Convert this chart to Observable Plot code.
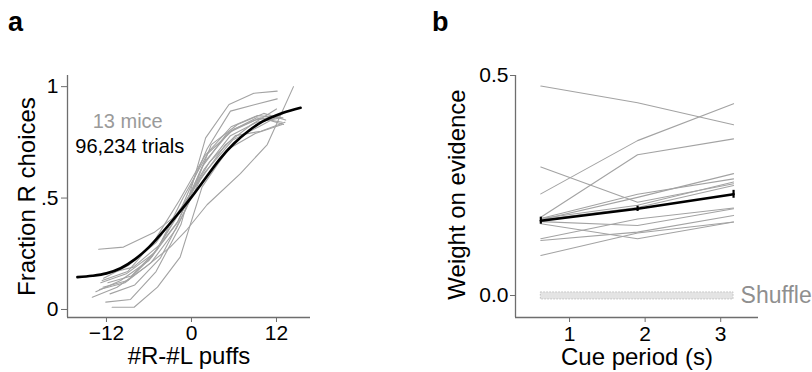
<!DOCTYPE html>
<html>
<head>
<meta charset="utf-8">
<script src="https://cdn.jsdelivr.net/npm/d3@7"></script>
<script src="https://cdn.jsdelivr.net/npm/@observablehq/plot@0.6"></script>
<style>
  html, body { margin: 0; padding: 0; background: #fff; }
  #wrap { position: relative; width: 812px; height: 372px; overflow: hidden; font-family: "Liberation Sans", Arial, sans-serif; }
  .panel { position: absolute; top: 0; }
  .plabel { position: absolute; top: 7px; font-weight: bold; font-size: 27px; font-family: "Liberation Sans", Arial, sans-serif; }
</style>
</head>
<body>
<div id="wrap">
  <div class="panel" id="pa" style="left:0"></div>
  <div class="panel" id="pb" style="left:406px"></div>
  <div class="plabel" style="left:8px">a</div>
  <div class="plabel" style="left:432px">b</div>
</div>
<script>
// ---------- Panel a: psychometric curves ----------
const mouseX = [
  [-13.1, -9.6, -5.3, -1.8, 1.8, 5.5, 9.2, 12.6],
  [-11.2, -8.1, -4.8, -1.6, 1.5, 5.2, 9.0, 12.8],
  [-14.0, -10.5, -6.5, -3.0, -0.6, 2.2, 6.9, 10.7, 14.4],
  [-12.1, -8.6, -5.0, -1.5, 2.0, 5.3, 8.8, 12.1],
  [-12.5, -9.0, -5.5, -1.5, 2.2, 5.5, 9.0, 12.1],
  [-12.8, -9.2, -5.4, -1.8, 1.8, 5.5, 9.2, 12.8],
  [-12.4, -8.8, -5.0, -1.4, 2.0, 5.8, 9.5, 13.0],
  [-13.5, -10.0, -6.0, -2.0, 1.5, 5.0, 9.0, 12.5],
  [-11.8, -8.5, -4.8, -1.2, 2.3, 6.0, 9.8, 13.0],
  [-12.0, -8.2, -4.5, -1.0, 2.5, 6.2, 9.8, 13.2],
  [-13.0, -9.4, -5.7, -2.2, 1.2, 4.8, 8.5, 12.0],
  [-12.6, -9.0, -5.2, -1.7, 1.9, 5.6, 9.3, 12.9],
  [-11.5, -8.0, -4.4, -0.8, 2.8, 6.5, 10.2, 13.3]
];
const mouseFrac = [
  [0.27, 0.28, 0.345, 0.43, 0.63, 0.78, 0.84, 0.86],
  [0.01, 0.01, 0.10, 0.235, 0.55, 0.72, 0.79, 0.83],
  [0.055, 0.10, 0.19, 0.28, 0.36, 0.47, 0.61, 0.74, 1.0],
  [0.033, 0.045, 0.17, 0.38, 0.77, 0.92, 0.97, 0.98],
  [0.10, 0.13, 0.24, 0.45, 0.72, 0.89, 0.92, 0.945],
  [0.12, 0.16, 0.25, 0.40, 0.66, 0.80, 0.86, 0.84],
  [0.14, 0.20, 0.30, 0.46, 0.62, 0.76, 0.82, 0.88],
  [0.08, 0.13, 0.22, 0.39, 0.64, 0.79, 0.85, 0.87],
  [0.12, 0.15, 0.27, 0.50, 0.70, 0.81, 0.86, 0.83],
  [0.16, 0.19, 0.29, 0.47, 0.66, 0.78, 0.80, 0.84],
  [0.09, 0.12, 0.21, 0.36, 0.58, 0.74, 0.83, 0.90],
  [0.13, 0.17, 0.31, 0.49, 0.69, 0.82, 0.87, 0.86],
  [0.07, 0.11, 0.23, 0.45, 0.74, 0.83, 0.88, 0.85]
];
const fitX = [-16.1, -14, -12, -10, -8, -6, -4, -2, 0, 2, 4, 6, 8, 10, 12, 14, 15.4];
const fitY = [0.145, 0.151, 0.162, 0.185, 0.225, 0.28, 0.35, 0.425, 0.504, 0.59, 0.675, 0.745, 0.80, 0.843, 0.872, 0.893, 0.905];
const aTicksX = [-12, 0, 12];
const aTicksY = [0, 0.5, 1];
const aTickLabelsY = ["0", ".5", "1"];
const annotA = ["13 mice", "96,234 trials"];

// ---------- Panel b: weights on evidence ----------
const cuePeriod = [0.62, 1.9, 3.17];
const mouseWeight = [
  [0.476, 0.438, 0.388],
  [0.231, 0.352, 0.436],
  [0.178, 0.320, 0.356],
  [0.292, 0.212, 0.254],
  [0.172, 0.223, 0.277],
  [0.175, 0.205, 0.258],
  [0.168, 0.159, 0.197],
  [0.163, 0.129, 0.167],
  [0.129, 0.174, 0.199],
  [0.125, 0.144, 0.182],
  [0.091, 0.142, 0.167],
  [0.175, 0.230, 0.265],
  [0.172, 0.200, 0.250]
];
const meanWeight = [0.170, 0.197, 0.230];
const semWeight = [0.008, 0.006, 0.009];
const shuffleLow = -0.009;
const shuffleHigh = 0.007;
const bTicksX = [1, 2, 3];
const bTicksY = [0, 0.5];
const bTickLabelsY = ["0.0", "0.5"];

const FONT = "'Liberation Sans', Arial, sans-serif";
const GRAY = "#a3a3a3";
const AXIS = "#6e6e6e";

// Build tidy tables
const curvesA = mouseX.flatMap((xs, m) => xs.map((x, i) => ({m, x, y: mouseFrac[m][i]})));
const fitA = fitX.map((x, i) => ({x, y: fitY[i]}));
const curvesB = mouseWeight.flatMap((ws, m) => ws.map((w, i) => ({m, x: cuePeriod[i], y: w})));
const meanB = cuePeriod.map((x, i) => ({x, y: meanWeight[i], lo: meanWeight[i] - semWeight[i], hi: meanWeight[i] + semWeight[i]}));

const xDomA = [-17.5, 16.8], yDomA = [-0.036, 1.05];
const plotA = Plot.plot({
  width: 406, height: 372,
  marginLeft: 67, marginRight: 96, marginTop: 75, marginBottom: 55,
  style: {fontFamily: FONT, fontSize: "21px", color: "#000", background: "transparent", overflow: "visible"},
  x: {domain: xDomA},
  y: {domain: yDomA},
  marks: [
    Plot.ruleX([xDomA[0]], {y1: yDomA[0], y2: yDomA[1], stroke: AXIS, strokeWidth: 1.3}),
    Plot.ruleY([yDomA[0]], {x1: xDomA[0], x2: xDomA[1], stroke: AXIS, strokeWidth: 1.3}),
    Plot.axisX({ticks: aTicksX, tickSize: 5, tickPadding: 3, label: null, stroke: AXIS, fill: "#000", anchor: "bottom"}),
    Plot.axisY({ticks: aTicksY, tickSize: 6, tickPadding: 3, label: null, stroke: AXIS, fill: "#000", anchor: "left",
      tickFormat: d => aTickLabelsY[aTicksY.indexOf(d)]}),
    Plot.line(curvesA, {x: "x", y: "y", z: "m", stroke: GRAY, strokeWidth: 1.1}),
    Plot.line(fitA, {x: "x", y: "y", stroke: "#000", strokeWidth: 2.6, curve: "catmull-rom"}),
    Plot.text([annotA[0]], {x: -9.0, y: 0.843, text: d => d, fill: "#9a9a9a", fontSize: 20, textAnchor: "middle"}),
    Plot.text([annotA[1]], {x: -8.7, y: 0.732, text: d => d, fill: "#000", fontSize: 20, textAnchor: "middle"}),
    Plot.text(["#R-#L puffs"], {frameAnchor: "bottom", dy: 39, lineAnchor: "middle", textAnchor: "middle", text: d => d, fontSize: 24, fill: "#000"}),
    Plot.text(["Fraction R choices"], {frameAnchor: "left", dx: -40, dy: 0, rotate: -90, textAnchor: "middle", lineAnchor: "middle", text: d => d, fontSize: 24, fill: "#000"})
  ]
});
document.getElementById("pa").appendChild(plotA);

const xDomB = [0.285, 3.5], yDomB = [-0.05, 0.5];
const plotB = Plot.plot({
  width: 406, height: 372,
  marginLeft: 109, marginRight: 54, marginTop: 75, marginBottom: 55,
  style: {fontFamily: FONT, fontSize: "21px", color: "#000", background: "transparent", overflow: "visible"},
  x: {domain: xDomB},
  y: {domain: yDomB},
  marks: [
    Plot.ruleX([xDomB[0]], {y1: yDomB[0], y2: yDomB[1], stroke: AXIS, strokeWidth: 1.3}),
    Plot.ruleY([yDomB[0]], {x1: xDomB[0], x2: xDomB[1], stroke: AXIS, strokeWidth: 1.3}),
    Plot.axisX({ticks: bTicksX, tickSize: 5, tickPadding: 4, label: null, stroke: AXIS, fill: "#000", anchor: "bottom",
      tickFormat: d => String(d)}),
    Plot.axisY({ticks: bTicksY, tickSize: 5, tickPadding: 2, label: null, stroke: AXIS, fill: "#000", anchor: "left",
      tickFormat: d => bTickLabelsY[bTicksY.indexOf(d)]}),
    Plot.rect([{x1: cuePeriod[0], x2: cuePeriod[2], y1: shuffleLow, y2: shuffleHigh}],
      {x1: "x1", x2: "x2", y1: "y1", y2: "y2", fill: "#e4e4e4", stroke: "#b5b5b5", strokeWidth: 0.8, strokeDasharray: "1.5,1.5"}),
    Plot.text(["Shuffle"], {x: cuePeriod[2], y: (shuffleLow + shuffleHigh) / 2, dx: 7, text: d => d, textAnchor: "start", fill: "#8f8f8f", fontSize: 23}),
    Plot.line(curvesB, {x: "x", y: "y", z: "m", stroke: GRAY, strokeWidth: 1.1}),
    Plot.line(meanB, {x: "x", y: "y", stroke: "#000", strokeWidth: 2.6}),
    Plot.ruleX(meanB, {x: "x", y1: "lo", y2: "hi", stroke: "#000", strokeWidth: 2.2}),
    Plot.text(["Cue period (s)"], {frameAnchor: "bottom", dy: 40, lineAnchor: "middle", textAnchor: "middle", text: d => d, fontSize: 24, fill: "#000"}),
    Plot.text(["Weight on evidence"], {frameAnchor: "left", dx: -58, dy: -2, rotate: -90, textAnchor: "middle", lineAnchor: "middle", text: d => d, fontSize: 24, fill: "#000"})
  ]
});
document.getElementById("pb").appendChild(plotB);
</script>
</body>
</html>
